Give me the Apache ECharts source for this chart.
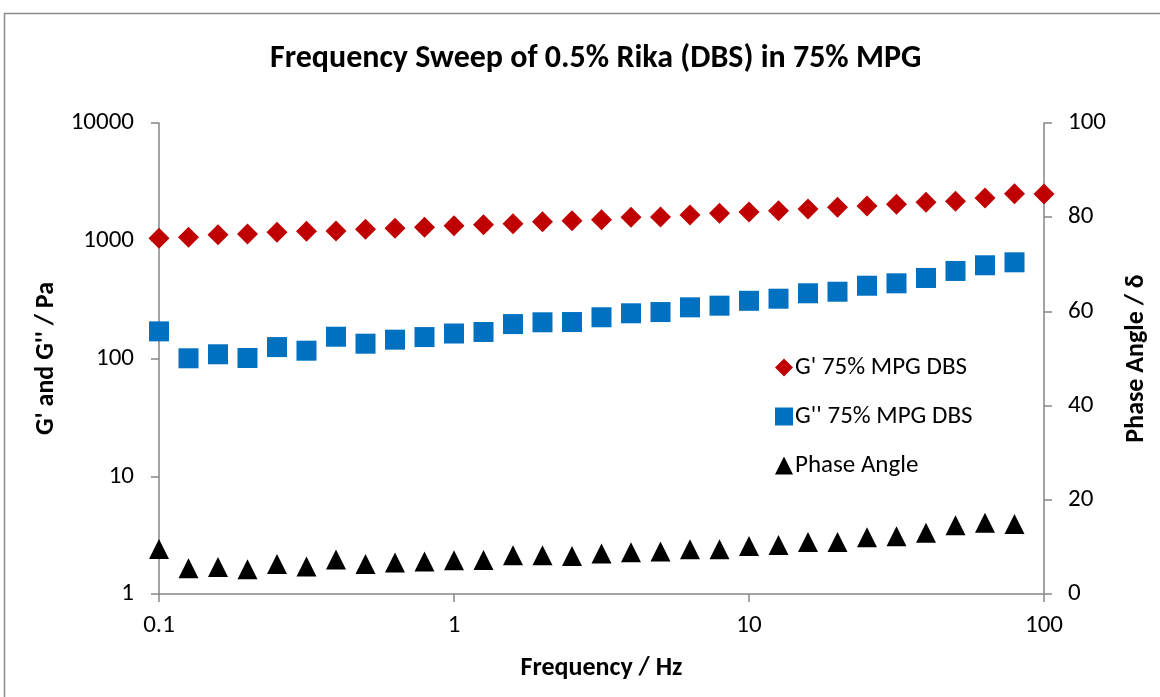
<!DOCTYPE html>
<html>
<head>
<meta charset="utf-8">
<title>Frequency Sweep</title>
<script src="https://cdn.jsdelivr.net/npm/echarts@6/dist/echarts.min.js"></script>
<style>
  html, body { margin: 0; padding: 0; background: #fff; }
  #chart { width: 1160px; height: 697px; }
</style>
</head>
<body>
<div id="chart"></div>
<script>
// Oscillation frequency, Hz (10 points per decade)
const frequency = [0.1, 0.1259, 0.1585, 0.1995, 0.2512, 0.3162, 0.3981, 0.5012, 0.631, 0.7943,
  1, 1.259, 1.585, 1.995, 2.512, 3.162, 3.981, 5.012, 6.31, 7.943,
  10, 12.59, 15.85, 19.95, 25.12, 31.62, 39.81, 50.12, 63.1, 79.43, 100];

// Storage modulus G', Pa
const storageModulus = [1049, 1070, 1125, 1141, 1180, 1203, 1210, 1251, 1276, 1301,
  1338, 1368, 1396, 1452, 1480, 1510, 1582, 1592, 1656, 1711,
  1754, 1800, 1861, 1924, 1973, 2040, 2122, 2163, 2307, 2511, 2495];

// Loss modulus G'', Pa
const lossModulus = [170, 100.4, 108.6, 101, 125, 116.5, 153, 133.6, 144.5, 152,
  163, 168, 196, 203, 204, 224, 242, 248, 272, 281,
  309, 322, 358, 369, 415, 435, 483, 554, 619, 656];

// Phase angle, degrees
const phaseAngle = [9.53, 5.47, 5.72, 5.25, 6.36, 5.83, 7.35, 6.36, 6.67, 6.89,
  7.15, 7.20, 8.22, 8.22, 8.05, 8.62, 8.86, 9.00, 9.49, 9.49,
  10.18, 10.38, 11.06, 11.06, 12.03, 12.25, 13.03, 14.58, 15.15, 14.87];

const xTicks = [0.1, 1, 10, 100];
const seriesNames = ["G' 75% MPG DBS", "G'' 75% MPG DBS", "Phase Angle"];

const pairs = (ys) => ys.map((y, i) => [frequency[i], y]);

const FONT = 'Carlito, Lato, "Open Sans", sans-serif';
const AXIS_GREY = '#868686';

const chart = echarts.init(document.getElementById('chart'), null, { renderer: 'canvas' });

const axisCommon = {
  axisLine: { show: true, lineStyle: { color: AXIS_GREY, width: 1.5 } },
  axisTick: { show: true, inside: false, length: 8, lineStyle: { color: AXIS_GREY, width: 1.5 } },
  splitLine: { show: false },
  minorTick: { show: false },
  nameTextStyle: { fontFamily: FONT, fontWeight: 'bold', fontSize: 26, color: '#000' }
};

const tickLabel = { fontFamily: FONT, fontSize: 25, color: '#000' };

chart.setOption({
  backgroundColor: '#fff',
  animation: false,
  textStyle: { fontFamily: FONT },
  title: {
    text: 'Frequency Sweep of 0.5% Rika (DBS) in 75% MPG',
    left: 265,
    top: 38,
    textStyle: { fontFamily: FONT, fontWeight: 'bold', fontSize: 32, color: '#000' }
  },
  graphic: [{
    type: 'rect',
    shape: { x: 4.5, y: 13.5, width: 1200, height: 800 },
    style: { fill: 'none', stroke: '#8a8a8a', lineWidth: 1.5 },
    silent: true,
    z: -1
  }],
  legend: {
    orient: 'vertical',
    left: 770,
    top: 350,
    itemWidth: 18,
    itemHeight: 18,
    itemGap: 24,
    data: seriesNames,
    textStyle: { fontFamily: FONT, fontSize: 25, color: '#000', padding: [0, 0, 0, -3] }
  },
  grid: {
    left: 159, right: 116, top: 123, bottom: 103,
    containLabel: false,
    outerBoundsMode: 'none'
  },
  xAxis: {
    ...axisCommon,
    type: 'log',
    logBase: 10,
    min: 0.1,
    max: 100,
    name: 'Frequency / Hz',
    nameLocation: 'middle',
    nameGap: 61,
    axisLabel: {
      ...tickLabel, margin: 19,
      formatter: (v) => {
        const t = xTicks.find(k => Math.abs(k - v) / k < 1e-6);
        return t === undefined ? '' : String(t);
      }
    }
  },
  yAxis: [{
    ...axisCommon,
    type: 'log',
    logBase: 10,
    min: 1,
    max: 10000,
    position: 'left',
    name: "G' and G'' / Pa",
    nameLocation: 'middle',
    nameRotate: 90,
    nameGap: 100,
    axisLabel: { ...tickLabel, margin: 25, formatter: (v) => String(Math.round(v)) }
  }, {
    ...axisCommon,
    type: 'value',
    min: 0,
    max: 100,
    interval: 20,
    position: 'right',
    name: 'Phase Angle / δ',
    nameLocation: 'middle',
    nameRotate: 90,
    nameGap: 79,
    axisLabel: { ...tickLabel, margin: 24 }
  }],
  series: [{
    name: seriesNames[0],
    type: 'scatter',
    yAxisIndex: 0,
    symbol: 'diamond',
    symbolSize: 21,
    itemStyle: { color: '#C00000', opacity: 1 },
    data: pairs(storageModulus)
  }, {
    name: seriesNames[1],
    type: 'scatter',
    yAxisIndex: 0,
    symbol: 'rect',
    symbolSize: 20,
    itemStyle: { color: '#0070C0', opacity: 1 },
    data: pairs(lossModulus)
  }, {
    name: seriesNames[2],
    type: 'scatter',
    yAxisIndex: 1,
    symbol: 'triangle',
    symbolSize: 20,
    itemStyle: { color: '#000000', opacity: 1 },
    data: pairs(phaseAngle)
  }]
});
</script>
</body>
</html>
